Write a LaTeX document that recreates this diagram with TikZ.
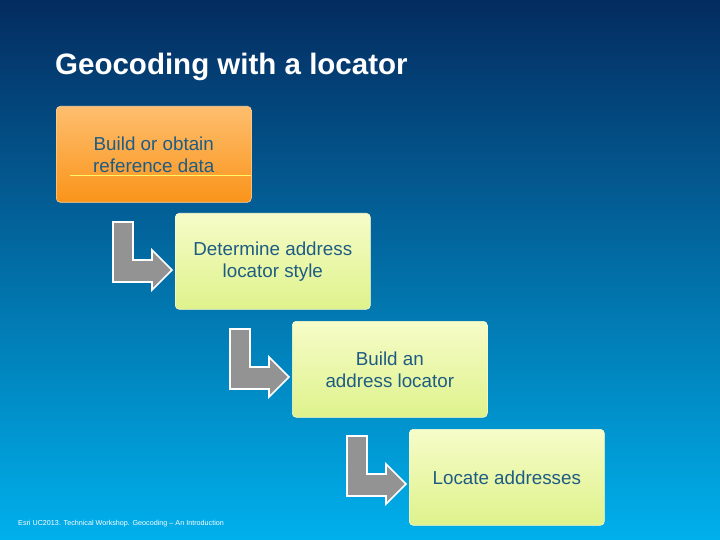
\documentclass[tikz,border=0pt]{standalone}
\usepackage{fontspec}
\setmainfont{Liberation Sans}
\begin{document}
\begin{tikzpicture}[x=1pt,y=-1pt,
  box/.style={rounded corners=4pt,draw=white!80!yellow,line width=0.6pt,minimum width=195pt,minimum height=96pt,anchor=north west,inner sep=0pt,align=center,text=txt,font=\fontsize{18.8}{22}\selectfont},
  gbox/.style={box,top color=lgA,bottom color=lgB},
  larrow/.style={fill=gray!85,draw=white,line width=1.6pt,line join=miter}]
\definecolor{bgtop}{RGB}{4,44,96}
\definecolor{bgbot}{RGB}{0,176,236}
\definecolor{txt}{RGB}{30,92,132}
\definecolor{lgA}{RGB}{246,252,200}
\definecolor{lgB}{RGB}{222,242,140}
\definecolor{orA}{RGB}{254,190,110}
\definecolor{orB}{RGB}{250,148,26}
\useasboundingbox (0,0) rectangle (720,540);
\shade[top color=bgtop,bottom color=bgbot] (0,0) rectangle (720,540);
\node[anchor=west,text=white,inner sep=0pt,font=\bfseries\fontsize{29.5}{32}\selectfont] (title) at (55,67) {Geocoding with a locator};
\node[box,top color=orA,bottom color=orB,draw=orA!70!white] (b1) at (56,106) {Build or obtain\\reference data};
\draw[yellow!60!white,line width=0.6pt] (70,175) -- (251,175);
\node[gbox] (b2) at (175,213) {Determine address\\locator style};
\node[gbox] (b3) at (292,321) {Build an\\address locator};
\node[gbox] (b4) at (409,429) {Locate addresses};
\foreach \ox/\oy [count=\i] in {113/222,230/329,347/436}{
  \draw[larrow,shift={(\ox,\oy)}] (0,0) -- (20,0) -- (20,38) -- (39,38) -- (39,28) -- (59,48) -- (39,68) -- (39,60) -- (0,60) -- cycle;
}
\node[anchor=west,text=white,inner sep=0pt,font=\fontsize{7.2}{8}\selectfont] (foot) at (18,524) {Esri UC2013. Technical Workshop. Geocoding – An Introduction};
\end{tikzpicture}
\end{document}
